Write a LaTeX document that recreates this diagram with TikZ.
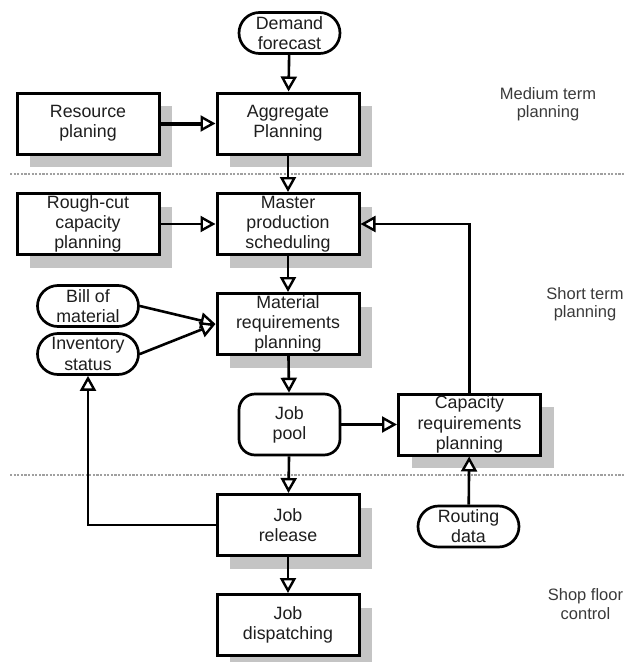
\documentclass[tikz,border=0pt]{standalone}
\usepackage{fontspec}
\setmainfont{Liberation Sans}
\usetikzlibrary{arrows.meta,shapes.misc,shadows}
\definecolor{shadowgray}{HTML}{C4C4C4}
\definecolor{sepgray}{HTML}{A0A0A0}
\definecolor{inkdark}{HTML}{1E1E1E}
\definecolor{notegray}{HTML}{3A3A3A}
\begin{document}
\begin{tikzpicture}[x=1pt,y=-1pt,
  every node/.style={align=center, text=inkdark, font=\fontsize{17.8}{20.2}\selectfont},
  procbox/.style={draw=black, fill=white, line width=3pt, minimum width=142pt,
    minimum height=61pt, inner sep=0pt,
    general shadow={fill=shadowgray, shadow xshift=13pt, shadow yshift=-13pt}},
  databox/.style={rounded rectangle, draw=black, fill=white, line width=2.7pt,
    minimum width=101pt, minimum height=41pt, inner sep=0pt},
  poolbox/.style={rectangle, rounded corners=16pt, draw=black, fill=white, line width=2.7pt,
    minimum width=101pt, minimum height=61pt, inner sep=0pt},
  note/.style={text=notegray, font=\fontsize{16.5}{18.5}\selectfont},
  flow/.style={line width=2.6pt,
    -{Triangle[length=15pt, width=16pt, fill=white, line width=2.4pt]}},
  heavyflow/.style={flow, line width=4pt},
  separator/.style={sepgray, line width=1.6pt, dash pattern=on 2.2pt off 1.4pt}
]
\useasboundingbox (0,0) rectangle (624,662);

% planning-horizon separators
\draw[separator] (10,174) -- (624,174);
\draw[separator] (10,475) -- (624,475);

% horizon labels
\node[note] (medium) at (548,104) {Medium term\\planning};
\node[note] (short)  at (585,304) {Short term\\planning};
\node[note] (shop)   at (585.5,604) {Shop floor\\control};

% medium term
\node[databox] (demand)   at (289.5,33) {Demand\\forecast};
\node[procbox] (resource) at (88,123.5)  {Resource\\planing};
\node[procbox] (aggr)     at (288,123.5) {Aggregate\\Planning};

% short term
\node[procbox] (rough)    at (88,224)  {Rough-cut\\capacity\\planning};
\node[procbox] (mps)      at (288,224) {Master\\production\\scheduling};
\node[databox] (bom)      at (88,306)  {Bill of\\material};
\node[databox] (inv)      at (88,354)  {Inventory\\status};
\node[procbox] (mrp)      at (288,324) {Material\\requirements\\planning};
\node[poolbox] (pool)     at (289.5,424.5) {Job\\pool};
\node[procbox] (crp)      at (469.5,424.5) {Capacity\\requirements\\planning};

% shop floor
\node[procbox] (release)  at (288,525) {Job\\release};
\node[databox] (routing)  at (468.5,526.5) {Routing\\data};
\node[procbox] (dispatch) at (288,625) {Job\\dispatching};

% connectors
\draw[flow] (demand) -- (aggr);
\draw[heavyflow] (resource) -- (aggr);
\draw[flow] (aggr) -- (mps);
\draw[flow] (rough) -- (mps);
\draw[flow] (mps) -- (mrp);
\draw[flow] (bom.east) -- (mrp.west);
\draw[flow] (inv.east) -- (mrp.west);
\draw[flow] (mrp) -- (pool);
\draw[flow] (pool) -- (crp);
\draw[flow] (crp.north) |- (mps.east);
\draw[flow] (pool) -- (release);
\draw[flow] (release.west) -| (inv.south);
\draw[flow] (routing) -- (crp);
\draw[flow] (release) -- (dispatch);
\end{tikzpicture}
\end{document}
